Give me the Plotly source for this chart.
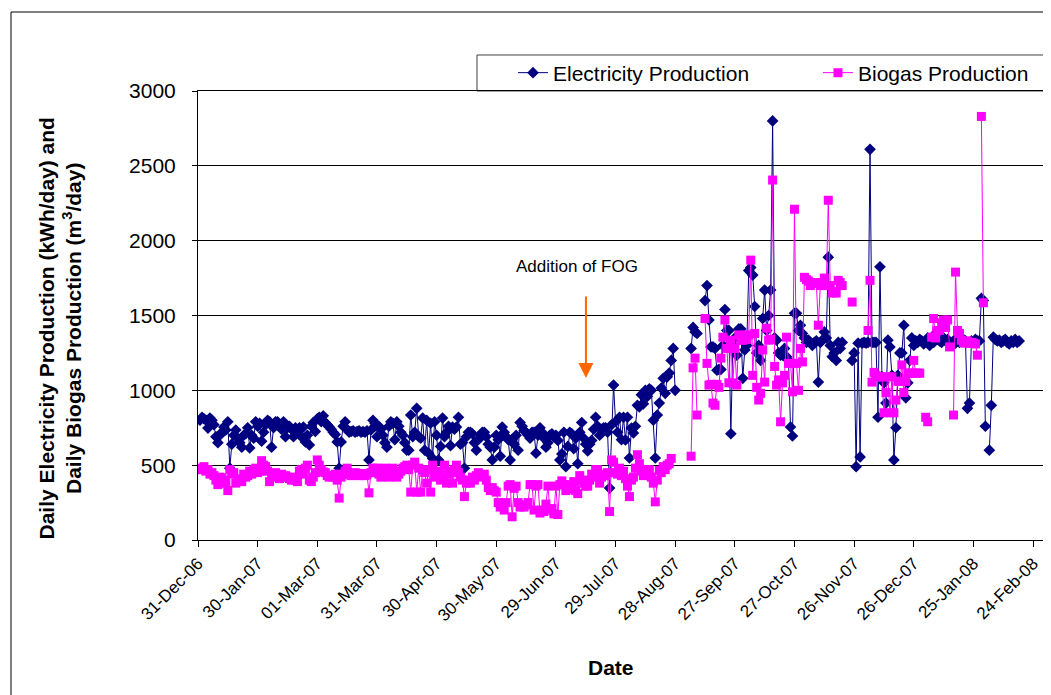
import pandas as pd
import plotly.graph_objects as go

N = None
# ---- Daily electricity production (kWh/day), one list per month ----
e_2007_01 = [800, 820, 810, 800, 748, 815, 800, 770, 690, 650, 700, 720, 755, 735, 790, 480, 640, 700, 735, 680,
             650, 620, 700, 710, 750, 615, 700, 680, 790, 760, 780]
e_2007_02 = [660, 720, 770, 800, 790, 620, 750, 790, 790, 760, 740, 790, 690, 750, 760, 740, 690, 750, 730, 750,
             690, 755, 655, 700, 635, 760, 785, 725]
e_2007_03 = [810, 820, 790, 830, 785, 770, 755, 740, 720, 705, 655, 480, 655, 760, 790, 740, 720, 725, 730, 720,
             725, 730, 720, 725, 720, 730, 535, 735, 800, 780, 690]
e_2007_04 = [760, 740, 700, 650, 620, 760, 790, 780, 670, 790, 760, 720, 700, 650, 600, 600, 835, 690, 720, 880,
             690, 680, 815, 600, 800, 580, 780, 545, 790, 700]
e_2007_05 = [535, 625, 815, 690, 720, 760, 630, 755, 740, 755, 820, 640, 650, 480, 690, 720, 720, 710, 650, 600,
             670, 700, 720, 720, 690, 640, 620, 535, 620, 700, 670]
e_2007_06 = [560, 755, 720, 690, 670, 535, 670, 640, 700, 600, 785, 760, 730, 720, 700, 680, 720, 720, 580, 700,
             750, 720, 680, 620, 650, 700, 710, 690, 700, 665]
e_2007_07 = [535, 575, 720, 490, 625, 720, 710, 610, 680, 510, 720, 785, 680, 640, 595, 640, 665, 740, 820, 760,
             700, 740, 750, 750, 720, 347, 770, 1035, 790, 720, 820]
e_2007_08 = [670, 820, 668, 820, 548, 748, 715, 760, 900, 890, 970, 910, 1000, 960, 1010, 1000, 800, 548, 835, 915,
             1015, 1080, 980, 1090, 1115, 1200, 1280, 1000, N, N, N]
e_2007_09 = [N, N, N, N, 1280, 1420, 1390, 1380, N, N, N, 1600, 1700, 1470, 1290, 1290, 1280, 1135, 1140, 1140,
             1300, 1540, 1400, 1400, 710, 1300, 1350, 1235, 1410, 1410]
e_2007_10 = [1080, 1270, 1300, 1800, 1820, 1770, 1560, 1250, 1300, 1200, 1480, 1670, 1400, 1500, 1670, 2800, 1350,
             1335, 1250, 1235, 1235, 1280, 1225, 1200, 755, 695, 1515, 1515, 1400, 1435, 1380]
e_2007_11 = [1350, 1320, 1335, 1320, 1300, 1320, 1330, 1055, 1320, 1335, 1390, 1350, 1890, 1300, 1225, 1250, 1200,
             1320, 1280, 1320, N, N, N, N, 1200, 1250, 490, 1315, 555, 1315]
e_2007_12 = [1320, 1315, 1320, 2610, 1320, 1320, 1320, 820, 1825, 1090, 1050, 915, 1335, 1290, 1100, 535, 750, 1100,
             1250, 1250, 1435, 950, 1050, 1200, 1350, 1300, 1330, 1320, 1340, 1330, 1310]
e_2008_01 = [1330, 1350, 1300, 1330, 1320, 1380, 1340, 1330, 1320, 1350, 1330, 1340, 1320, 1310, 1330, 1315, 1330,
             1320, 1330, 1340, 1330, 880, 915, 1330, 1320, 1340, 1330, 1330, 1615, 1600, 760]
e_2008_02 = [N, 600, 900, 1355, 1340, 1330, 1335, 1320, 1330, 1340, 1320, 1310, 1330, 1320, 1340, 1320, 1330]

# ---- Daily biogas production (m3/day), one list per month ----
b_2007_01 = [480, 470, 490, 460, 470, 440, 450, 430, 400, 370, 420, 415, 400, 380, 330, 470, 440, 450, 380, 410,
             400, 390, 440, 420, 430, 460, 440, 470, 480, 450, 460]
b_2007_02 = [530, 500, 490, 460, 390, 420, 440, 450, 430, 410, 440, 420, 430, 420, 410, 400, 420, 400, 390, 460,
             470, 440, 480, 500, 400, 390, 420, 450]
b_2007_03 = [535, 500, 470, 455, 450, 430, 420, 430, 420, 440, 400, 280, 420, 440, 460, 480, 440, 430, 440, 450,
             440, 430, 440, 445, 430, 440, 315, 450, 480, 470, 480]
b_2007_04 = [440, 420, 450, 480, 460, 420, 440, 480, 450, 420, 440, 460, 480, 490, 500, 470, 320, 500, 520, 320,
             480, 320, 470, 450, 380, 470, 320, 500, 420, 440]
b_2007_05 = [460, 400, 420, 500, 380, 440, 460, 380, 470, 500, 450, 420, 400, 290, 380, 400, 380, 420, 400, 430,
             450, 430, 420, 440, 400, 350, 330, 350, 330, 320, 250]
b_2007_06 = [220, 240, 200, 250, 360, 370, 155, 345, 360, 250, 220, 230, 220, 235, 250, 370, 370, 200, 360, 370,
             180, 200, 190, 240, 360, 200, 210, 175, 360, 170]
b_2007_07 = [370, 395, 370, 330, 370, 340, 360, 390, 330, 310, 430, 400, 380, 360, 360, 400, 440, 420, 470, 470,
             380, 420, 440, 430, 450, 190, 535, 520, 450, 440, 480]
b_2007_08 = [430, 460, 410, 360, 290, 400, 420, 480, 570, 510, 460, 430, 470, 440, 470, 420, 380, 255, 400, 465,
             450, 490, 470, 500, 510, 545, N, N, N, N, N]
b_2007_09 = [N, N, N, N, 560, 1150, 1215, 835, N, N, N, 1480, 1180, 1035, 1040, 915, 900, 1040, 1020, 1215,
             1355, 1470, 1280, 1050, 1335, 1050, 1280, 1035, 1370, 1335]
b_2007_10 = [1335, 1370, 1340, 1370, 1870, 1100, 1380, 1020, 935, 980, 1270, 1055, 1415, 1335, 1340, 2405, 1160,
             1035, 1070, 790, 1050, 1100, 1355, 1180, 1180, 990, 2210, 1180, 1000, 1280, 1190]
b_2007_11 = [1755, 1740, 1730, 1700, 1715, 1720, 1715, 1435, 1700, 1720, 1750, 1700, 2270, 1700, 1650, 1660, 1650,
             1735, 1720, 1700, N, N, N, N, 1590, N, N, N, N, N]
b_2007_12 = [N, N, 1400, 1735, 1055, 1120, 1100, 1090, N, 1090, 850, 985, 1090, 850, 1090, 850, 935, 1060, 1060,
             1170, 985, 1060, 1115, 1115, 1115, 1200, 1115, 1115, 1115, N, N]
b_2008_01 = [820, 790, N, 1355, 1480, 1350, 1400, 1400, 1450, 1470, 1420, 1470, 1290, N, 835, 1790, 1400, 1380,
             1335, 1320, 1315, 1330, 1315, 1320, 1315, 1310, 1235, N, 2830, 1585, N]

# ---- Axis tick dates and labels ----
tick_dates = ["2006-12-31", "2007-01-30", "2007-03-01", "2007-03-31", "2007-04-30", "2007-05-30", "2007-06-29",
              "2007-07-29", "2007-08-28", "2007-09-27", "2007-10-27", "2007-11-26", "2007-12-26", "2008-01-25",
              "2008-02-24"]
tick_labels = ["31-Dec-06", "30-Jan-07", "01-Mar-07", "31-Mar-07", "30-Apr-07", "30-May-07", "29-Jun-07",
               "29-Jul-07", "28-Aug-07", "27-Sep-07", "27-Oct-07", "26-Nov-07", "26-Dec-07", "25-Jan-08",
               "24-Feb-08"]

e_months = [("2007-01-01", e_2007_01), ("2007-02-01", e_2007_02), ("2007-03-01", e_2007_03),
            ("2007-04-01", e_2007_04), ("2007-05-01", e_2007_05), ("2007-06-01", e_2007_06),
            ("2007-07-01", e_2007_07), ("2007-08-01", e_2007_08), ("2007-09-01", e_2007_09),
            ("2007-10-01", e_2007_10), ("2007-11-01", e_2007_11), ("2007-12-01", e_2007_12),
            ("2008-01-01", e_2008_01), ("2008-02-01", e_2008_02)]
b_months = [("2007-01-01", b_2007_01), ("2007-02-01", b_2007_02), ("2007-03-01", b_2007_03),
            ("2007-04-01", b_2007_04), ("2007-05-01", b_2007_05), ("2007-06-01", b_2007_06),
            ("2007-07-01", b_2007_07), ("2007-08-01", b_2007_08), ("2007-09-01", b_2007_09),
            ("2007-10-01", b_2007_10), ("2007-11-01", b_2007_11), ("2007-12-01", b_2007_12),
            ("2008-01-01", b_2008_01)]


def build(months):
    xs, ys = [], []
    for start, vals in months:
        dates = pd.date_range(start, periods=len(vals), freq="D")
        xs.extend(dates)
        ys.extend(vals)
    return xs, ys


ex, ey = build(e_months)
bx, by = build(b_months)

FONT = "Liberation Sans, Arial, sans-serif"

fig = go.Figure()
fig.add_trace(go.Scatter(x=ex, y=ey, mode="lines+markers", name="Electricity Production", legend="legend",
                         line=dict(color="#000080", width=1),
                         marker=dict(symbol="diamond", size=9, color="#000080")))
fig.add_trace(go.Scatter(x=bx, y=by, mode="lines+markers", name="Biogas Production", legend="legend2",
                         line=dict(color="#FF00FF", width=1),
                         marker=dict(symbol="square", size=9, color="#FF00FF")))

leg_common = dict(orientation="h", xanchor="left", yanchor="middle", y=(540 - 73) / 449,
                  borderwidth=0, bgcolor="rgba(0,0,0,0)", font=dict(size=21, family=FONT))

# the page body adds an 8 px offset, so margins are reduced accordingly
fig.update_layout(
    width=1051, height=695,
    margin=dict(l=190, r=14, t=83, b=163),
    paper_bgcolor="white", plot_bgcolor="white",
    font=dict(family=FONT, color="black"),
    showlegend=True,
    legend=dict(x=(513 - 198) / 847, **leg_common),
    legend2=dict(x=(818 - 198) / 847, **leg_common),
    xaxis=dict(type="date", range=["2006-12-31", "2008-03-01"], tickmode="array",
               tickvals=tick_dates, ticktext=tick_labels, tickangle=-45,
               tickfont=dict(size=17, family=FONT), ticks="outside", ticklen=6, tickcolor="black",
               showline=True, linecolor="black", linewidth=1, mirror=True, showgrid=False, zeroline=False),
    yaxis=dict(range=[0, 3000], dtick=500, tickfont=dict(size=21, family=FONT), ticks="outside", ticklen=5,
               ticklabelstandoff=12,
               tickcolor="black", showline=True, linecolor="black", linewidth=1, mirror=True,
               showgrid=True, gridcolor="black", gridwidth=1, zeroline=False),
)

# legend frame
fig.add_shape(type="rect", xref="paper", yref="paper", x0=(477 - 198) / 847, x1=1.0, y0=1.0, y1=(540 - 55) / 449,
              line=dict(color="#404040", width=1), fillcolor="white", layer="below")

fig.add_annotation(xref="paper", yref="paper", x=-0.1635, y=0.47, textangle=-90, showarrow=False,
                   xanchor="center", yanchor="middle",
                   text="<b>Daily Electricity Production (kWh/day) and<br>Daily Biogas Production (m<sup>3</sup>/day)</b>",
                   font=dict(size=21, family=FONT))
fig.add_annotation(xref="paper", yref="paper", x=0.4876, y=-0.285, showarrow=False,
                   xanchor="center", yanchor="middle", text="<b>Date</b>", font=dict(size=21, family=FONT))
fig.add_annotation(xref="paper", yref="paper", x=0.4475, y=0.61, showarrow=False,
                   xanchor="center", yanchor="middle", text="Addition of FOG", font=dict(size=17, family=FONT))
fig.add_annotation(xref="paper", yref="paper", x=0.458, y=0.3608, text="", showarrow=True,
                   ax=0, ay=-83, arrowcolor="#FF6600", arrowwidth=2, arrowhead=2, arrowsize=1.5)

fig.add_shape(type="rect", xref="paper", yref="paper", x0=(11 - 198) / 847, x1=1.05, y0=-0.42, y1=(540 - 12) / 449,
              line=dict(color="black", width=1), fillcolor="rgba(0,0,0,0)", layer="below")

fig.write_html("out.html")
